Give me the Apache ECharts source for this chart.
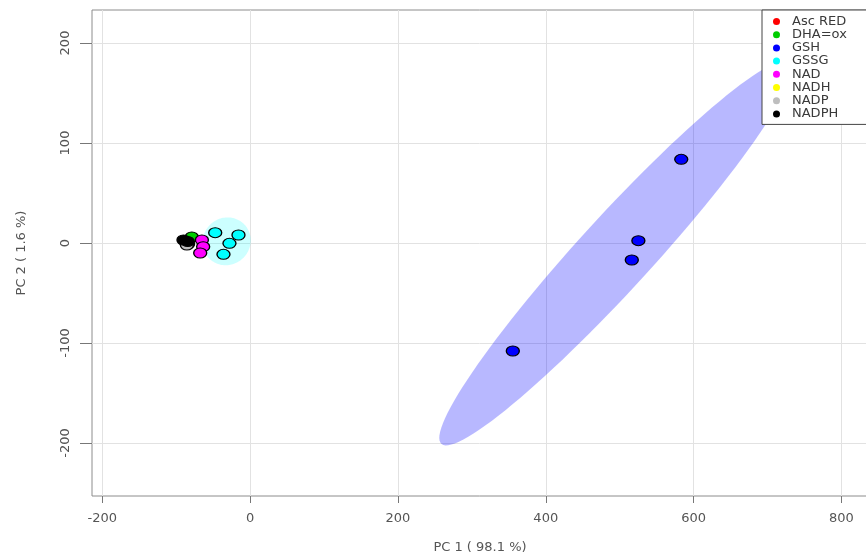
<!DOCTYPE html>
<html>
<head>
<meta charset="utf-8">
<script src="https://cdn.jsdelivr.net/npm/echarts@6/dist/echarts.min.js"></script>
<style>
  html, body { margin: 0; padding: 0; background: #fff; }
  #chart { width: 866px; height: 554px; }
</style>
</head>
<body>
<div id="chart"></div>
<script>
// PCA scores, one array per sample group (PC1, PC2)
const groupNames = ['Asc RED', 'DHA=ox', 'GSH', 'GSSG', 'NAD', 'NADH', 'NADP', 'NADPH'];
const groupColors = ['#FF0000', '#00CD00', '#0000FF', '#00FFFF', '#FF00FF', '#FFFF00', '#BEBEBE', '#000000'];

const ascRed = [[-88, 2], [-86, 1]];
const dhaOx = [[-79, 6]];
const gsh = [[583.3, 83.7], [525.3, 2.3], [516.4, -17], [355.4, -108]];
const gssg = [[-47.3, 10.3], [-15.8, 8], [-28, -0.3], [-36.1, -11.3]];
const nad = [[-65.3, 3], [-63.6, -3.7], [-67.6, -10]];
const nadh = [[-84, -1]];
const nadp = [[-85.6, -2]];
const nadph = [[-90.2, 3], [-84.5, 1.5]];

const groupData = [ascRed, dhaOx, gsh, gssg, nad, nadh, nadp, nadph];

// groups that get a 95% confidence ellipse
const ellipseGroups = ['GSH', 'GSSG'];
const ellipseFills = { 'GSH': 'rgba(0,0,255,0.28)', 'GSSG': 'rgba(0,255,255,0.2)' };

const xTicks = [-200, 0, 200, 400, 600, 800];
const yTicks = [-200, -100, 0, 100, 200];
const xTitle = 'PC 1 ( 98.1 %)';
const yTitle = 'PC 2 ( 1.6 %)';

// mean, sample covariance and principal axes of a point set
function ellipseParams(pts) {
  const n = pts.length;
  const mx = pts.reduce((s, p) => s + p[0], 0) / n;
  const my = pts.reduce((s, p) => s + p[1], 0) / n;
  let sxx = 0, syy = 0, sxy = 0;
  pts.forEach(p => {
    sxx += (p[0] - mx) * (p[0] - mx);
    syy += (p[1] - my) * (p[1] - my);
    sxy += (p[0] - mx) * (p[1] - my);
  });
  sxx /= (n - 1); syy /= (n - 1); sxy /= (n - 1);
  const tr = sxx + syy, det = sxx * syy - sxy * sxy;
  const disc = Math.sqrt(Math.max(tr * tr / 4 - det, 0));
  const l1 = tr / 2 + disc, l2 = Math.max(tr / 2 - disc, 0);
  const theta = Math.abs(sxy) < 1e-12 ? (sxx >= syy ? 0 : Math.PI / 2) : Math.atan2(l1 - sxx, sxy);
  const k = Math.sqrt(5.991); // chi-square, 2 df, 95%
  return { mx, my, a: k * Math.sqrt(l1), b: k * Math.sqrt(l2), theta };
}

const ellipseItems = ellipseGroups.map(name => {
  const e = ellipseParams(groupData[groupNames.indexOf(name)]);
  return { value: [e.mx, e.my], params: e, fill: ellipseFills[name] };
});

const axisFont = { fontFamily: 'DejaVu Sans', fontSize: 13, color: '#555' };

const chart = echarts.init(document.getElementById('chart'), null, { renderer: 'canvas' });

const series = [{
  name: 'ellipses',
  type: 'custom',
  z: 1,
  clip: false,
  silent: true,
  data: ellipseItems.map(d => d.value),
  encode: { x: 0, y: 1 },
  renderItem: function (params, api) {
    const item = ellipseItems[params.dataIndex];
    const e = item.params;
    const pts = [];
    for (let i = 0; i < 120; i++) {
      const t = 2 * Math.PI * i / 120;
      const u = e.a * Math.cos(t), v = e.b * Math.sin(t);
      const x = e.mx + u * Math.cos(e.theta) - v * Math.sin(e.theta);
      const y = e.my + u * Math.sin(e.theta) + v * Math.cos(e.theta);
      pts.push(api.coord([x, y]));
    }
    return { type: 'polygon', shape: { points: pts }, style: { fill: item.fill, stroke: null } };
  }
}];

groupNames.forEach((name, i) => {
  series.push({
    name: name,
    type: 'scatter',
    z: 3 + i,
    data: groupData[i],
    symbol: 'circle',
    symbolSize: [13, 10],
    itemStyle: { color: groupColors[i], borderColor: '#000', borderWidth: 1.2, opacity: 1 },
    emphasis: { disabled: true }
  });
});

chart.setOption({
  animation: false,
  backgroundColor: '#fff',
  grid: {
    left: 92, top: 10, width: 776, height: 486,
    outerBoundsMode: 'none',
    containLabel: false,
    show: true, borderColor: '#8c8c8c', borderWidth: 1, backgroundColor: 'transparent'
  },
  xAxis: {
    type: 'value', min: -214, max: 836,
    name: xTitle, nameLocation: 'middle', nameGap: 45,
    nameTextStyle: axisFont,
    axisLine: { show: false, onZero: false },
    axisTick: { show: true, customValues: xTicks, length: 7, lineStyle: { color: '#777' } },
    axisLabel: { customValues: xTicks, margin: 16, ...axisFont },
    splitLine: { show: true, lineStyle: { color: '#e2e2e2', width: 1 } }
  },
  yAxis: {
    type: 'value', min: -253, max: 233,
    name: yTitle, nameLocation: 'middle', nameGap: 64,
    nameTextStyle: axisFont,
    axisLine: { show: false, onZero: false },
    axisTick: { show: true, customValues: yTicks, length: 12, lineStyle: { color: '#777' } },
    axisLabel: { customValues: yTicks, rotate: 90, margin: 20, ...axisFont },
    splitLine: { show: true, lineStyle: { color: '#e2e2e2', width: 1 } }
  },
  legend: {
    data: groupNames,
    orient: 'vertical',
    left: 762, top: 10,
    padding: [5, 40, 4, 11],
    backgroundColor: '#fff',
    borderColor: '#444', borderWidth: 1, borderRadius: 0,
    icon: 'circle', itemWidth: 7, itemHeight: 7, itemGap: 0.2,
    itemStyle: { borderWidth: 0 },
    selectedMode: false,
    textStyle: { fontFamily: 'DejaVu Sans', fontSize: 13, lineHeight: 13, color: '#3a3a3a', padding: [0, 0, 0, 7] }
  },
  series: series
});
</script>
</body>
</html>
